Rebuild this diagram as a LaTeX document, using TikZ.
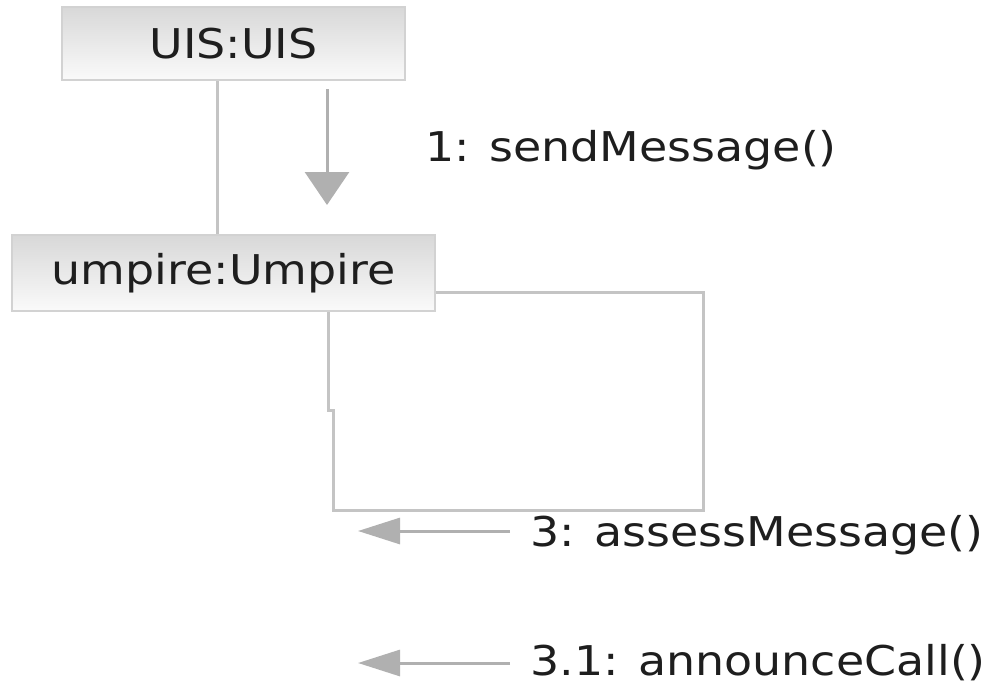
\documentclass[tikz,border=0pt]{standalone}
\usepackage{fontspec}
\newfontfamily\lblfont[FakeStretch=1.12]{DejaVu Sans}
\usetikzlibrary{arrows.meta}
\definecolor{boxtop}{HTML}{D8D8D8}
\definecolor{boxbot}{HTML}{FAFAFA}
\definecolor{boxline}{HTML}{D2D2D2}
\definecolor{linkgray}{HTML}{C4C4C4}
\definecolor{arrgray}{HTML}{B0B0B0}
\definecolor{txt}{HTML}{1E1E1E}
\tikzset{
  objbox/.style={draw=boxline, line width=2.5pt, top color=boxtop, bottom color=boxbot,
    inner sep=0pt, text=txt, font=\lblfont\fontsize{41}{48}\selectfont},
  linkline/.style={draw=linkgray, line width=3pt},
  msgdown/.style={draw=arrgray, line width=3pt, -{Triangle[length=33pt,width=44pt]}, arrgray},
  msgleft/.style={draw=arrgray, line width=3pt, -{Triangle[length=42pt,width=26pt]}, arrgray},
  msglabel/.style={anchor=west, inner sep=0pt, text=txt, font=\lblfont\fontsize{41}{48}\selectfont}
}
\begin{document}
\begin{tikzpicture}[x=1pt,y=-1pt]
\useasboundingbox (0,0) rectangle (994,686);
% objects
\node[objbox, minimum width=343pt, minimum height=73pt] (uis) at (233.5,43.5) {UIS:UIS};
\node[objbox, minimum width=423pt, minimum height=76pt] (ump) at (223.5,273) {umpire:Umpire};
% link between objects
\coordinate (lnk) at (217,0);
\draw[linkline] (uis.south -| lnk) -- (ump.north -| lnk);
% self link loop
\coordinate (loopR) at (703,292);
\coordinate (loopB) at (703,510);
\coordinate (loopL) at (333,510);
\coordinate (jogA) at (333,410);
\coordinate (jogB) at (328,410);
\draw[linkline] (ump.east |- loopR) -- (loopR) -- (loopB) -- (loopL) -- (jogA) -- (jogB) -- (jogB |- ump.south);
% message 1
\coordinate (m1s) at (327,89);
\coordinate (m1e) at (327,205);
\draw[msgdown] (m1s) -- (m1e);
\node[msglabel] (l1) at (425,150) {1: sendMessage()};
% message 3
\coordinate (m3s) at (510,531);
\coordinate (m3e) at (358,531);
\draw[msgleft] (m3s) -- (m3e);
\node[msglabel] (l3) at (530,535) {3: assessMessage()};
% message 3.1
\coordinate (m31s) at (510,663);
\coordinate (m31e) at (358,663);
\draw[msgleft] (m31s) -- (m31e);
\node[msglabel] (l31) at (530,663) {3.1: announceCall()};
\end{tikzpicture}
\end{document}
